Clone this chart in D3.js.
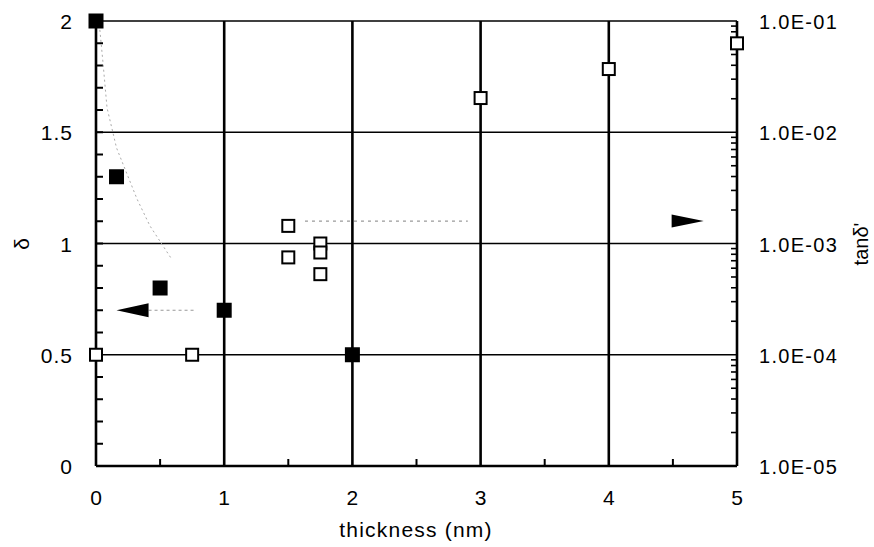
<!DOCTYPE html>
<html>
<head>
<meta charset="utf-8">
<script src="https://cdn.jsdelivr.net/npm/d3@7"></script>
<style>
  body { margin: 0; background: #fff; }
  text { font-family: "Liberation Sans", Arial, sans-serif; fill: #000; }
</style>
</head>
<body>
<div id="chart"></div>
<script>
// delta (left axis, filled squares)
const deltaX = [0, 0.16, 0.5, 1.0, 2.0];
const deltaY = [2.0, 1.3, 0.8, 0.7, 0.5];

// tan delta' (right log axis, open squares)
const tanX = [0, 0.75, 1.5, 1.5, 1.75, 1.75, 1.75, 3, 4, 5];
const tanY = [1.0e-4, 1.0e-4, 1.44e-3, 7.5e-4, 1.0e-3, 8.3e-4, 5.3e-4, 2.03e-2, 3.7e-2, 6.3e-2];

// faint fitted curve traces
const curveX = [0.03, 0.055, 0.086, 0.16, 0.32, 0.42, 0.59];
const curveY = [1.96, 1.81, 1.61, 1.43, 1.20, 1.08, 0.93];

const xTicks = [0, 1, 2, 3, 4, 5];
const leftTicks = [0, 0.5, 1, 1.5, 2];
const rightTicks = [1e-5, 1e-4, 1e-3, 1e-2, 1e-1];
const rightLabels = ['1.0E-05', '1.0E-04', '1.0E-03', '1.0E-02', '1.0E-01'];

const width = 874, height = 547;
const svg = d3.select('#chart').append('svg')
    .attr('width', width)
    .attr('height', height);

const x = d3.scaleLinear().domain([0, 5]).range([96, 737]);
const yL = d3.scaleLinear().domain([0, 2]).range([466, 21]);
const yR = d3.scaleLog().domain([1e-5, 1e-1]).range([466, 21]);

// horizontal grid (thin)
svg.selectAll('.hgrid')
    .data([0.5, 1, 1.5, 2])
    .join('line')
    .attr('x1', x(0)).attr('x2', x(5))
    .attr('y1', d => yL(d)).attr('y2', d => yL(d))
    .attr('stroke', '#000').attr('stroke-width', 1.6);

// vertical grid (thick)
svg.selectAll('.vgrid')
    .data([1, 2, 3, 4])
    .join('line')
    .attr('x1', d => x(d)).attr('x2', d => x(d))
    .attr('y1', yL(0)).attr('y2', yL(2))
    .attr('stroke', '#000').attr('stroke-width', 2.6);

// left axis
svg.append('line')
    .attr('x1', x(0)).attr('x2', x(0))
    .attr('y1', yL(0)).attr('y2', yL(2))
    .attr('stroke', '#000').attr('stroke-width', 2.6);
svg.selectAll('.lminor')
    .data(d3.range(1, 20))
    .join('line')
    .attr('x1', x(0)).attr('x2', x(0) + 7)
    .attr('y1', d => yL(d / 10)).attr('y2', d => yL(d / 10))
    .attr('stroke', '#000').attr('stroke-width', 2);

// right axis
svg.append('line')
    .attr('x1', x(5)).attr('x2', x(5))
    .attr('y1', yR(1e-5)).attr('y2', yR(1e-1))
    .attr('stroke', '#000').attr('stroke-width', 2.6);
const logMinor = [];
[-5, -4, -3, -2].forEach(e => {
    for (let m = 2; m <= 9; m++) logMinor.push(m * Math.pow(10, e));
});
svg.selectAll('.rminor')
    .data(logMinor)
    .join('line')
    .attr('x1', x(5)).attr('x2', x(5) - 6)
    .attr('y1', d => yR(d)).attr('y2', d => yR(d))
    .attr('stroke', '#000').attr('stroke-width', 1.6);

// bottom axis
svg.append('line')
    .attr('x1', x(0)).attr('x2', x(5))
    .attr('y1', yL(0)).attr('y2', yL(0))
    .attr('stroke', '#000').attr('stroke-width', 2.4);
svg.selectAll('.bminor')
    .data([0.5, 1.5, 2.5, 3.5, 4.5])
    .join('line')
    .attr('x1', d => x(d)).attr('x2', d => x(d))
    .attr('y1', yL(0)).attr('y2', yL(0) - 7)
    .attr('stroke', '#000').attr('stroke-width', 2);

// tick labels
svg.selectAll('.xl')
    .data(xTicks)
    .join('text')
    .attr('x', d => x(d)).attr('y', 505)
    .attr('text-anchor', 'middle')
    .attr('font-size', 21)
    .text(d => d);

svg.selectAll('.ll')
    .data(leftTicks)
    .join('text')
    .attr('x', 73).attr('y', d => yL(d) + 8)
    .attr('text-anchor', 'end')
    .attr('font-size', 21)
    .attr('letter-spacing', 1)
    .text(d => d);

svg.selectAll('.rl')
    .data(rightTicks)
    .join('text')
    .attr('x', 759).attr('y', (d, i) => yR(d) + 8)
    .attr('font-size', 20)
    .attr('letter-spacing', 1.3)
    .text((d, i) => rightLabels[i]);

// axis titles
svg.append('text')
    .attr('x', 416).attr('y', 537)
    .attr('text-anchor', 'middle')
    .attr('font-size', 21)
    .attr('letter-spacing', 1.2)
    .text('thickness (nm)');

svg.append('text')
    .attr('transform', 'translate(29,244) rotate(-90)')
    .attr('text-anchor', 'middle')
    .attr('font-size', 21)
    .text('δ');

svg.append('text')
    .attr('transform', 'translate(868,244) rotate(-90)')
    .attr('text-anchor', 'middle')
    .attr('font-size', 20)
    .text("tanδ'");

// faint traces
const line = d3.line().x(d => x(d[0])).y(d => yL(d[1]));
svg.append('path')
    .attr('d', line(d3.zip(curveX, curveY)))
    .attr('fill', 'none')
    .attr('stroke', '#aaa')
    .attr('stroke-width', 1)
    .attr('stroke-dasharray', '2,3');

svg.append('line')
    .attr('x1', x(0.41)).attr('x2', x(0.77))
    .attr('y1', yL(0.7)).attr('y2', yL(0.7))
    .attr('stroke', '#999').attr('stroke-width', 1.2)
    .attr('stroke-dasharray', '3,3');

svg.append('line')
    .attr('x1', x(1.63)).attr('x2', x(2.9))
    .attr('y1', yR(1.59e-3)).attr('y2', yR(1.59e-3))
    .attr('stroke', '#999').attr('stroke-width', 1.2)
    .attr('stroke-dasharray', '3,4');

// arrows
svg.append('path')
    .attr('d', `M${x(0.16)},${yL(0.7)} L${x(0.41)},${yL(0.7) - 7} L${x(0.41)},${yL(0.7) + 7} Z`)
    .attr('fill', '#000');
svg.append('path')
    .attr('d', `M${x(4.74)},${yR(1.59e-3)} L${x(4.49)},${yR(1.59e-3) - 6.5} L${x(4.49)},${yR(1.59e-3) + 6.5} Z`)
    .attr('fill', '#000');

// open squares
const so = 12;
svg.selectAll('.open')
    .data(d3.zip(tanX, tanY))
    .join('rect')
    .attr('x', d => x(d[0]) - so / 2)
    .attr('y', d => yR(d[1]) - so / 2)
    .attr('width', so).attr('height', so)
    .attr('fill', '#fff')
    .attr('stroke', '#000')
    .attr('stroke-width', 2);

// filled squares
const sf = 15;
svg.selectAll('.filled')
    .data(d3.zip(deltaX, deltaY))
    .join('rect')
    .attr('x', d => x(d[0]) - sf / 2)
    .attr('y', d => yL(d[1]) - sf / 2)
    .attr('width', sf).attr('height', sf)
    .attr('fill', '#000');
</script>
</body>
</html>
